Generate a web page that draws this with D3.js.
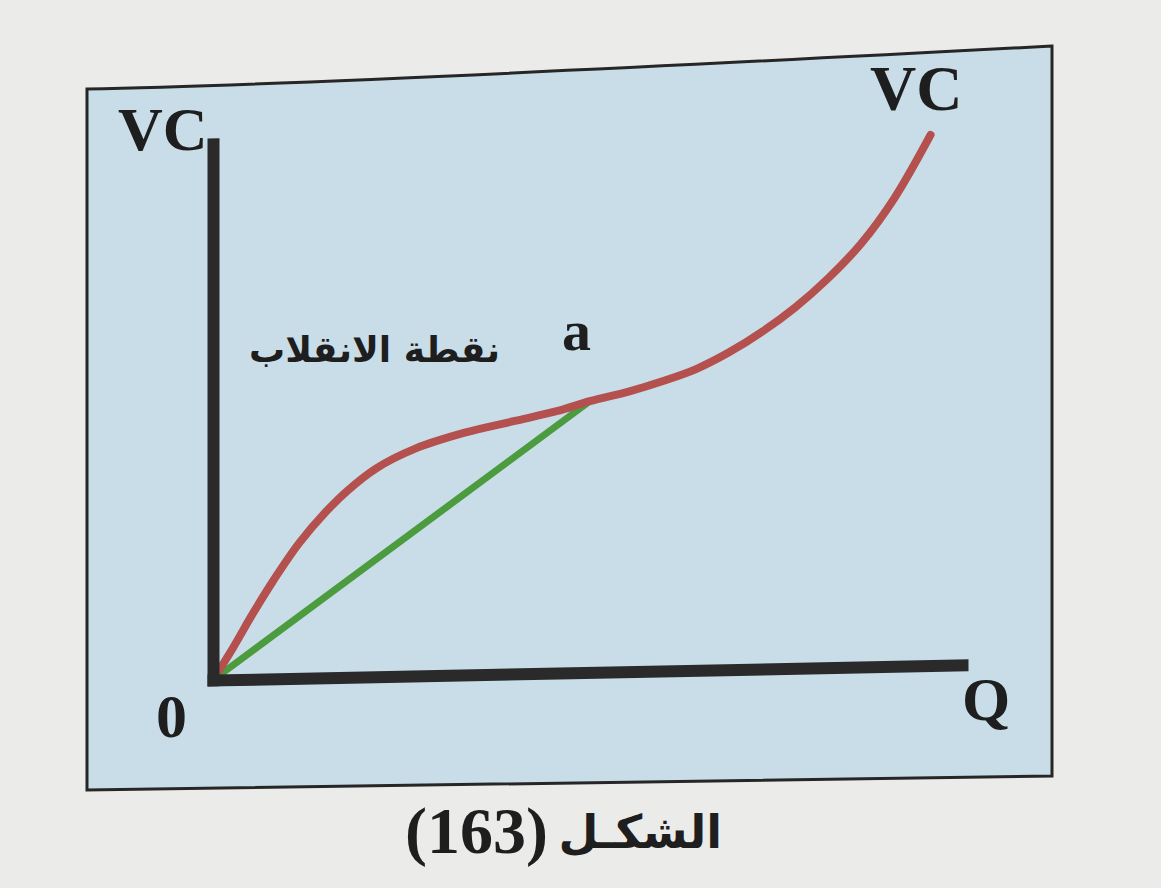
<!DOCTYPE html>
<html>
<head>
<meta charset="utf-8">
<script src="https://cdn.jsdelivr.net/npm/d3@7"></script>
<style>
  body { margin: 0; background: #ebebe9; }
  svg { display: block; }
</style>
</head>
<body>
<script>
// Quantity (Q) and variable cost (VC) in 0..10 units
const qValues = [0, 0.27, 0.53, 0.8, 1.15, 1.51, 1.81, 2.17, 2.7, 3.36, 4.03, 4.6, 5.03, 5.56, 6.01, 6.45, 6.89, 7.34, 7.77, 8.21, 8.66, 9.1, 9.58];
const vcValues = [0, 0.6, 1.22, 1.82, 2.52, 3.1, 3.5, 3.88, 4.24, 4.52, 4.72, 4.89, 5.06, 5.23, 5.41, 5.62, 5.92, 6.3, 6.73, 7.26, 7.91, 8.74, 9.9];
// inflection point a, and the ray from the origin to it
const rayQ = [0, 5.03];
const rayVC = [0, 5.06];
const axisDomain = [0, 10];

const width = 1161, height = 888;

const svg = d3.select('body')
    .append('svg')
    .attr('width', width)
    .attr('height', height);

// paper
svg.append('rect')
    .attr('width', width)
    .attr('height', height)
    .attr('fill', '#ebebe9');

// blue panel, top edge bends like the photographed page
svg.append('path')
    .attr('d', 'M87,89 C260,86 560,72 1052,46 L1052,776 L87,790 Z')
    .attr('fill', '#c8dde7')
    .attr('stroke', '#262626')
    .attr('stroke-width', 3);

// plot group: origin at the axis corner, slight skew from the photo
const plot = svg.append('g')
    .attr('transform', 'translate(213,680) skewY(-1.15)');

const x = d3.scaleLinear().domain(axisDomain).range([0, 749]);
const y = d3.scaleLinear().domain(axisDomain).range([0, -536]);

const line = d3.line()
    .x(d => x(d[0]))
    .y(d => y(d[1]))
    .curve(d3.curveCatmullRom.alpha(0.5));

// green ray 0 -> a
plot.append('path')
    .datum(rayQ.map((q, i) => [q, rayVC[i]]))
    .attr('d', d3.line().x(d => x(d[0])).y(d => y(d[1])))
    .attr('fill', 'none')
    .attr('stroke', '#4d9b3f')
    .attr('stroke-width', 7)
    .attr('stroke-linecap', 'round');

// red VC curve
plot.append('path')
    .datum(qValues.map((q, i) => [q, vcValues[i]]))
    .attr('d', line)
    .attr('fill', 'none')
    .attr('stroke', '#b4504e')
    .attr('stroke-width', 8)
    .attr('stroke-linecap', 'round');

// axes
plot.append('g')
    .call(d3.axisBottom(x).tickValues([]).tickSizeOuter(0));
plot.append('g')
    .call(d3.axisLeft(y).tickValues([]).tickSizeOuter(0));
plot.selectAll('.domain')
    .attr('stroke', '#2a2a2a')
    .attr('stroke-width', 12)
    .attr('stroke-linecap', 'square');

// labels
const serif = '"Liberation Serif", "Times New Roman", serif';
const arabic = '"DejaVu Sans", sans-serif';

const latinLabels = [
    { t: 'VC', x: 118, y: 150, s: 62 },
    { t: 'VC', x: 870, y: 110, s: 64 },
    { t: '0', x: 156, y: 737, s: 62 },
    { t: 'Q', x: 962, y: 720, s: 62 },
    { t: 'a', x: 562, y: 350, s: 58 },
    { t: '(163)', x: 405, y: 853, s: 66 }
];

svg.selectAll('.latin')
    .data(latinLabels)
    .enter()
    .append('text')
    .attr('class', 'latin')
    .attr('x', d => d.x)
    .attr('y', d => d.y)
    .attr('font-family', serif)
    .attr('font-weight', 'bold')
    .attr('font-size', d => d.s)
    .attr('fill', '#1e1e1e')
    .text(d => d.t);

svg.append('text')
    .attr('x', 500)
    .attr('y', 362)
    .attr('text-anchor', 'end')
    .attr('font-family', arabic)
    .attr('font-weight', 'bold')
    .attr('font-size', 36)
    .attr('fill', '#1e1e1e')
    .text('نقطة الانقلاب');

svg.append('text')
    .attr('x', 722)
    .attr('y', 848)
    .attr('text-anchor', 'end')
    .attr('font-family', arabic)
    .attr('font-weight', 'bold')
    .attr('font-size', 46)
    .attr('fill', '#1e1e1e')
    .text('الشكـل');
</script>
</body>
</html>
